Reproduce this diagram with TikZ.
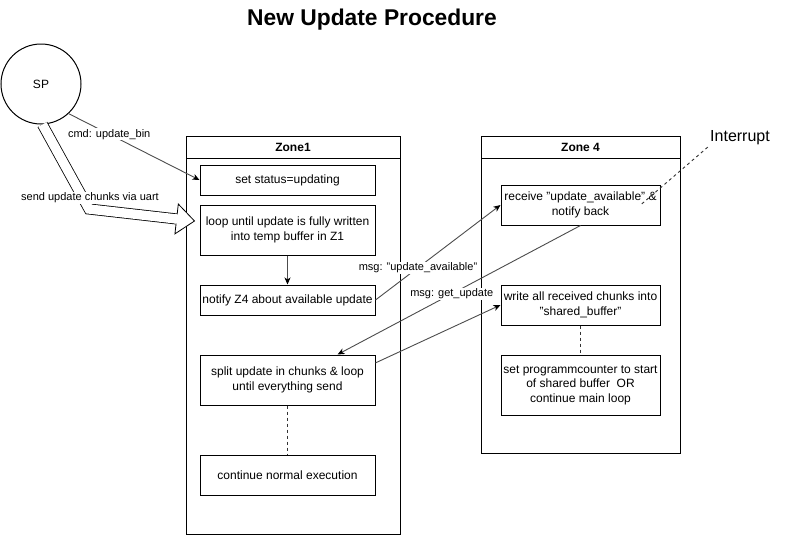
\documentclass[tikz,border=0pt]{standalone}
\usepackage{fontspec}
\setmainfont{Liberation Sans}
\usetikzlibrary{arrows.meta,calc}

\begin{document}
\begin{tikzpicture}[x=1pt, y=-1pt, line width=1pt,
	box/.style={draw, fill=white, align=center, inner sep=2pt, font=\fontsize{12}{14.5}\selectfont},
	zone/.style={draw, fill=white, inner sep=0pt},
	zonehead/.style={draw, minimum height=22pt, inner sep=0pt, font=\fontsize{12}{14}\selectfont\bfseries},
	lbl/.style={fill=white, inner sep=1pt, font=\fontsize{11}{13}\selectfont},
	conn/.style={draw=black!70, line width=.9pt, -{Stealth[length=7pt, width=6pt, inset=2pt, color=black]}},
	dashline/.style={draw=black!80, line width=.9pt, dash pattern=on 3pt off 3pt}]
	\useasboundingbox (0,0) rectangle (786,536);
	\node[font=\fontsize{22.8}{26}\selectfont\bfseries] (title) at (372,19.5) {New Update Procedure};
	\node[draw, circle, minimum size=80pt, inner sep=0pt, font=\fontsize{12}{14}\selectfont] (sp) at (41,84) {SP};
	% the two zones, with their title strip along the top edge
	\node[zone, minimum width=214pt, minimum height=398pt] (zoneA) at (293,335) {};
	\node[zonehead, minimum width=214pt, anchor=north] (zoneAhead) at (zoneA.north) {Zone1};
	\node[zone, minimum width=199pt, minimum height=317pt] (zoneB) at (580.5,294.5) {};
	\node[zonehead, minimum width=199pt, anchor=north] (zoneBhead) at (zoneB.north) {Zone 4};
	% steps in Zone1
	\node[box, minimum width=175pt, minimum height=30pt] (status) at (287.5,180) {set status=updating};
	\node[box, minimum width=175pt, minimum height=50pt] (loop) at (287.5,230) {loop until update is fully written\\into temp buffer in Z1};
	\node[box, minimum width=175pt, minimum height=30pt] (notify) at (287.5,300) {notify Z4 about available update};
	\node[box, minimum width=175pt, minimum height=50pt] (split) at (287.5,380) {split update in chunks \& loop\\until everything send};
	\node[box, minimum width=175pt, minimum height=40pt] (cont) at (287.5,475) {continue normal execution};
	% steps in Zone 4
	\node[box, minimum width=159pt, minimum height=40pt] (receive) at (580.5,205) {receive "update\_available" \&\\notify back};
	\node[box, minimum width=159pt, minimum height=40pt] (write) at (580.5,305) {write all received chunks into\\"shared\_buffer"};
	\node[box, minimum width=159pt, minimum height=60pt] (setpc) at (580.5,385) {set programmcounter to start\\of shared buffer\ \ OR\\continue main loop};
	\node[inner sep=2pt, font=\fontsize{16}{18}\selectfont] (intr) at (740,137.5) {Interrupt};
	\coordinate (irq) at ($(receive.east)+(-20,0)$);
	% flexible arrow carrying the chunks from SP into the loop step
	\coordinate (bend) at (89,209);
	\coordinate (tip) at ($(loop.west)+(-5,-9)$);
	\coordinate (base) at ($(tip)!18pt!(bend)$);
	\draw[line width=11pt, line join=miter] (sp.272) -- (bend) -- (base);
	\draw[white, line width=9.4pt, line join=miter] (sp.272) -- (bend) -- ($(base)!-1pt!(bend)$);
	\filldraw[fill=white, line width=.8pt, line join=miter] ($(base)!15pt!90:(tip)$) -- (tip) -- ($(base)!15pt!-90:(tip)$) -- cycle;
	\draw[white, line width=9.4pt] ($(base)!2pt!(bend)$) -- ($(base)!1.5pt!(tip)$);
	\node[lbl] at (90,198) {send update chunks via uart};
	\draw[conn] (sp.-47) -- node[lbl, pos=0.31] {cmd: update\_bin} (status.west);
	\draw[conn] (loop) -- (notify);
	\draw[conn] (notify.east) -- node[lbl, pos=0.34] {msg: "update\_available"} (receive.west);
	\draw[conn] (receive.south) -- node[lbl, pos=0.53] {msg: get\_update} (split.27.8);
	\draw[conn] (split.11) -- (write.west);
	\draw[dashline] (split) -- (cont);
	\draw[dashline] (write) -- (setpc);
	\draw[dashline] (intr.south west) -- (irq);
\end{tikzpicture}
\end{document}
